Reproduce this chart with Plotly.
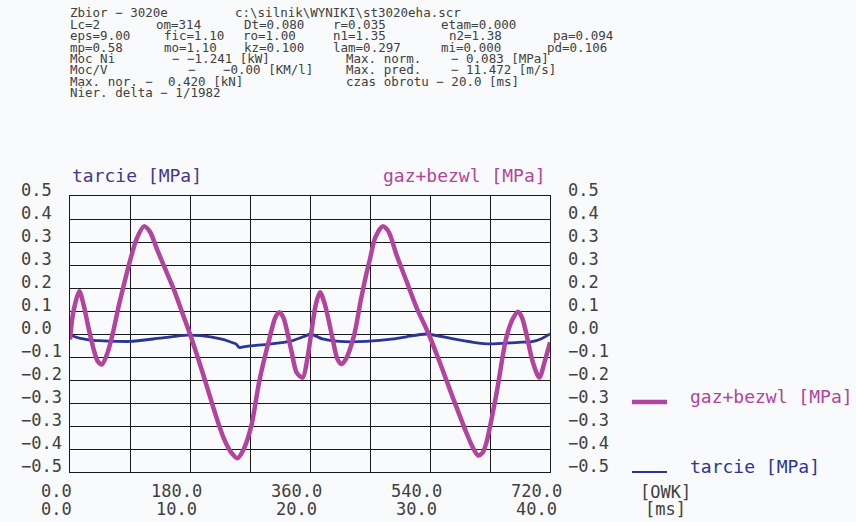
import plotly.graph_objects as go

# crank angle [deg OWK] and pressures [MPa]
GAZ_DEG = [0, 5, 14, 20, 28, 36, 42, 48, 56, 64, 72, 80, 90, 100, 111, 120, 130,
           143, 156, 168, 180, 193, 206, 218, 231, 242, 251, 260, 272, 284, 299,
           308, 314, 320, 332, 340, 349, 356, 362, 369, 375, 382, 394, 401, 407,
           414, 426, 436, 444, 450, 458, 469, 478, 490, 505, 520, 538, 555, 575,
           595, 604, 612, 619, 625, 640, 654, 664, 672, 678, 684, 694, 704, 712, 720]
GAZ_MPA = [-0.02, 0.08, 0.155, 0.11, 0.02, -0.06, -0.10, -0.11, -0.07, 0.0, 0.09,
           0.17, 0.265, 0.345, 0.39, 0.37, 0.31, 0.235, 0.16, 0.08, 0.0, -0.095,
           -0.195, -0.29, -0.38, -0.43, -0.45, -0.42, -0.333, -0.17, -0.018,
           0.06, 0.079, 0.06, -0.06, -0.14, -0.158, -0.09, 0.006, 0.11, 0.151,
           0.11, -0.018, -0.09, -0.109, -0.09, -0.006, 0.12, 0.212, 0.272, 0.35,
           0.39, 0.37, 0.285, 0.19, 0.095, 0.0, -0.105, -0.235, -0.36, -0.41,
           -0.44, -0.43, -0.39, -0.212, -0.018, 0.054, 0.081, 0.06, 0.006,
           -0.10, -0.158, -0.10, -0.03]

TARCIE_DEG = [0, 14, 30, 44, 90, 135, 176, 196, 226, 240, 249, 254, 262, 270, 299,
              334, 354, 361, 379, 404, 444, 486, 505, 535, 575, 605, 630, 673, 693,
              708, 720]
TARCIE_MPA = [-0.004, -0.015, -0.022, -0.024, -0.027, -0.015, -0.004, -0.006,
              -0.018, -0.028, -0.036, -0.049, -0.046, -0.043, -0.037, -0.024,
              -0.006, 0.0, -0.018, -0.027, -0.027, -0.018, -0.01, 0.0, -0.018,
              -0.03, -0.036, -0.03, -0.028, -0.016, 0.0]

Y_TICK_VALS = [6/12, 5/12, 4/12, 3/12, 2/12, 1/12, 0, -1/12, -2/12, -3/12, -4/12, -5/12, -6/12]
Y_TICK_TEXT = ["0.5", "0.4", "0.3", "0.3", "0.2", "0.1", "0.0",
               "−0.1", "−0.2", "−0.3", "−0.3", "−0.4", "−0.5"]
X_TICK_DEG = [0, 180, 360, 540, 720]
X_TICK_OWK = ["0.0", "180.0", "360.0", "540.0", "720.0"]
X_TICK_MS = ["0.0", "10.0", "20.0", "30.0", "40.0"]

HEADER = [
    [("Zbior − 3020e", 68), ("c:\\silnik\\WYNIKI\\st3020eha.scr", 233)],
    [("Lc=2", 68), ("om=314", 154), ("Dt=0.080", 242), ("r=0.035", 331), ("etam=0.000", 439)],
    [("eps=9.00", 68), ("fic=1.10", 162), ("ro=1.00", 241), ("n1=1.35", 331),
     ("n2=1.38", 447), ("pa=0.094", 551)],
    [("mp=0.58", 68), ("mo=1.10", 162), ("kz=0.100", 242), ("lam=0.297", 331),
     ("mi=0.000", 439), ("pd=0.106", 545)],
    [("Moc Ni", 68), ("− −1.241 [kW]", 170), ("Max. norm.", 344), ("− 0.083 [MPa]", 449)],
    [("Moc/V", 68), ("−", 186), ("−0.00 [KM/l]", 221), ("Max. pred.", 344), ("− 11.472 [m/s]", 449)],
    [("Max. nor. −", 68), ("0.420 [kN]", 166), ("czas obrotu − 20.0 [ms]", 344)],
    [("Nier. delta − 1/1982", 68)],
]

W, H = 856, 522
L, R, T, B = 70, 550, 196, 472
MAGENTA = "#b2449f"
NAVY = "#2b3593"
INK = "#404040"
FONT = "DejaVu Sans Mono"


def px(x):
    return (x - L) / (R - L)


def py(y):
    return (B - y) / (B - T)


fig = go.Figure()
fig.add_trace(go.Scatter(x=TARCIE_DEG, y=TARCIE_MPA, mode="lines", name="tarcie [MPa]",
                         line=dict(color=NAVY, width=2.8, shape="spline", smoothing=0.6)))
fig.add_trace(go.Scatter(x=GAZ_DEG, y=GAZ_MPA, mode="lines", name="gaz+bezwl [MPa]",
                         line=dict(color=MAGENTA, width=4.5, shape="spline", smoothing=0.8)))

ann = []
# header block
for i, row in enumerate(HEADER):
    for text, x in row:
        ann.append(dict(text=text, x=px(x), y=py(13 + i * 11.4), xref="paper", yref="paper",
                        xanchor="left", yanchor="middle", showarrow=False,
                        font=dict(family=FONT, size=12.5, color=INK)))

# y tick labels on both sides
for v, t in zip(Y_TICK_VALS, Y_TICK_TEXT):
    for x in (19, 566):
        ann.append(dict(text=t, x=px(x), y=v, xref="paper", yref="y", yshift=6,
                        xanchor="left", yanchor="middle", showarrow=False,
                        font=dict(family=FONT, size=17, color=INK)))

# x tick labels, two rows
for d, t1, t2 in zip(X_TICK_DEG, X_TICK_OWK, X_TICK_MS):
    for t, y in ((t1, 491), (t2, 509)):
        ann.append(dict(text=t, x=d, y=py(y), xref="x", yref="paper", xshift=-14,
                        xanchor="center", yanchor="middle", showarrow=False,
                        font=dict(family=FONT, size=17, color=INK)))
for t, y in (("[OWK]", 492), ("[ms]", 509)):
    ann.append(dict(text=t, x=px(665), y=py(y), xref="paper", yref="paper",
                    xanchor="center", yanchor="middle", showarrow=False,
                    font=dict(family=FONT, size=17, color=INK)))

# axis titles above the frame
ann.append(dict(text="tarcie [MPa]", x=0, y=py(176), xref="paper", yref="paper",
                xanchor="left", yanchor="middle", showarrow=False,
                font=dict(family=FONT, size=18, color="#45388a")))
ann.append(dict(text="gaz+bezwl [MPa]", x=px(548), y=py(176), xref="paper", yref="paper",
                xanchor="right", yanchor="middle", showarrow=False,
                font=dict(family=FONT, size=18, color=MAGENTA)))

# legend on the right
shapes = []
for text, color, width, y in (("gaz+bezwl [MPa]", MAGENTA, 4.5, 402),
                              ("tarcie [MPa]", NAVY, 2.2, 472)):
    shapes.append(dict(type="line", xref="paper", yref="paper", x0=px(632), x1=px(667),
                       y0=py(y), y1=py(y), line=dict(color=color, width=width)))
    ann.append(dict(text=text, x=px(688), y=py(y - 6), xref="paper", yref="paper",
                    xanchor="left", yanchor="middle", showarrow=False,
                    font=dict(family=FONT, size=18, color=color)))

fig.update_layout(
    width=W, height=H,
    margin=dict(l=L, r=W - R, t=T, b=H - B, pad=0),
    paper_bgcolor="#f9fafb",
    plot_bgcolor="#f9fafb",
    showlegend=False,
    annotations=ann,
    shapes=shapes,
    xaxis=dict(range=[0, 720], tick0=0, dtick=90, showgrid=True, gridcolor="#1a1a1a",
               gridwidth=1, showline=True, mirror=True, linecolor="#1a1a1a", linewidth=1,
               zeroline=False, showticklabels=False, ticks=""),
    yaxis=dict(range=[-0.5, 0.5], tick0=-0.5, dtick=1 / 12, showgrid=True,
               gridcolor="#1a1a1a", gridwidth=1, showline=True, mirror=True,
               linecolor="#1a1a1a", linewidth=1, zeroline=False,
               showticklabels=False, ticks=""),
)

fig.write_html("out.html", config={"displayModeBar": False},
               post_script="document.body.style.margin='0';document.body.style.overflow='hidden';")
